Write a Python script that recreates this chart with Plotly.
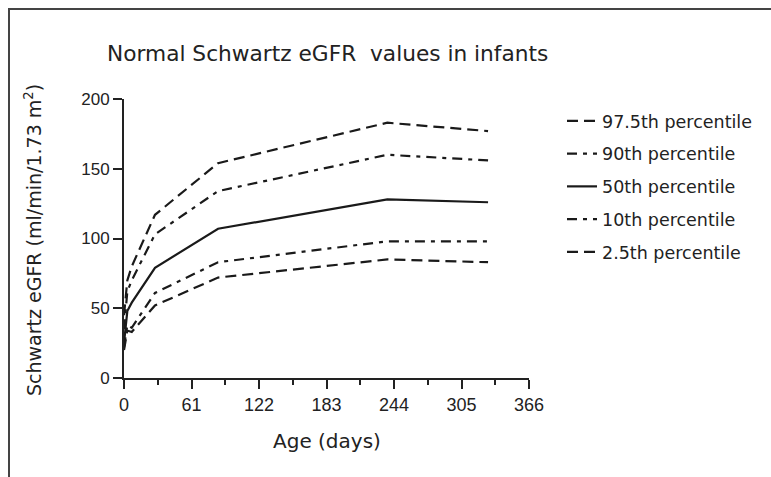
import plotly.graph_objects as go

age_days = [0, 3, 7, 28, 85, 238, 329]
p975 = [45, 70, 80, 117, 154, 183, 177]
p90 = [35, 62, 70, 103, 134, 160, 156]
p50 = [25, 48, 54, 79, 107, 128, 126]
p10 = [22, 38, 36, 61, 83, 98, 98]
p25 = [20, 34, 33, 52, 72, 85, 83]

series_names = ["97.5th percentile", "90th percentile", "50th percentile",
                "10th percentile", "2.5th percentile"]
series_vals = [p975, p90, p50, p10, p25]
dashes = ["11px,6px", "10px,6px,4px,6px", "solid", "10px,6px,4px,6px", "11px,6px"]

x_ticks = [0, 61, 122, 183, 244, 305, 366]
y_ticks = [0, 50, 100, 150, 200]

FONT = "DejaVu Sans, sans-serif"
TICKFONT = "Liberation Sans, Arial, sans-serif"
INK = "#222222"

fig = go.Figure()
for i, (name, vals, d) in enumerate(zip(series_names, series_vals, dashes)):
    fig.add_trace(go.Scatter(
        x=age_days, y=vals, name=name, mode="lines",
        line=dict(color="#1a1a1a", width=2.2, dash=d),
        legendgroup=f"g{i}",
    ))

fig.update_layout(
    width=771, height=477,
    margin=dict(l=124, r=242, t=99, b=99, autoexpand=False),
    paper_bgcolor="white", plot_bgcolor="white",
    font=dict(family=FONT, color=INK),
    showlegend=True,
    legend=dict(x=(562 - 124) / 405, y=(378 - 103) / 279, xanchor="left", yanchor="top",
                font=dict(size=17.5, family=FONT, color=INK),
                tracegroupgap=7, bgcolor="rgba(0,0,0,0)"),
    xaxis=dict(range=[0, 366], tickvals=x_ticks, ticktext=[str(v) for v in x_ticks],
               showgrid=False, zeroline=False, showline=True, linecolor="#222",
               linewidth=2, ticks="outside", ticklen=9, tickwidth=2, tickcolor="#222",
               tickfont=dict(size=18, family=TICKFONT, color=INK),
               minor=dict(dtick=30.5, tick0=0, ticks="outside", ticklen=5, tickwidth=1.5,
                          tickcolor="#222", showgrid=False)),
    yaxis=dict(range=[0, 200], tickvals=y_ticks,
               showgrid=False, zeroline=False, showline=True, linecolor="#222",
               linewidth=2, ticks="outside", ticklen=9, tickwidth=2, tickcolor="#222",
               tickfont=dict(size=17, family=TICKFONT, color=INK)),
)

fig.add_annotation(text="Normal Schwartz eGFR  values in infants", xref="paper", yref="paper",
                   x=(105 - 124) / 405, y=(378 - 53) / 279, xanchor="left", yanchor="middle",
                   showarrow=False, font=dict(size=21.7, family=FONT, color=INK))
fig.add_annotation(text="Schwartz eGFR (ml/min/1.73 m<sup>2</sup>)", xref="paper", yref="paper",
                   x=(33 - 124) / 405, y=(378 - 240) / 279, xanchor="center", yanchor="middle",
                   textangle=-90, showarrow=False, font=dict(size=19, family=FONT, color=INK))
fig.add_annotation(text="Age (days)", xref="paper", yref="paper",
                   x=(327 - 124) / 405, y=(378 - 441) / 279, xanchor="center", yanchor="middle",
                   showarrow=False, font=dict(size=20, family=FONT, color=INK))

fig.add_shape(type="rect", xref="paper", yref="paper",
              x0=(9 - 124) / 405, y0=(378 - 9) / 279, x1=3, y1=-3,
              line=dict(color="#444", width=2), fillcolor="rgba(0,0,0,0)", layer="below")

fig.write_html("out.html", config={"displayModeBar": False},
               post_script="document.body.style.margin='0';document.body.style.padding='0';")
